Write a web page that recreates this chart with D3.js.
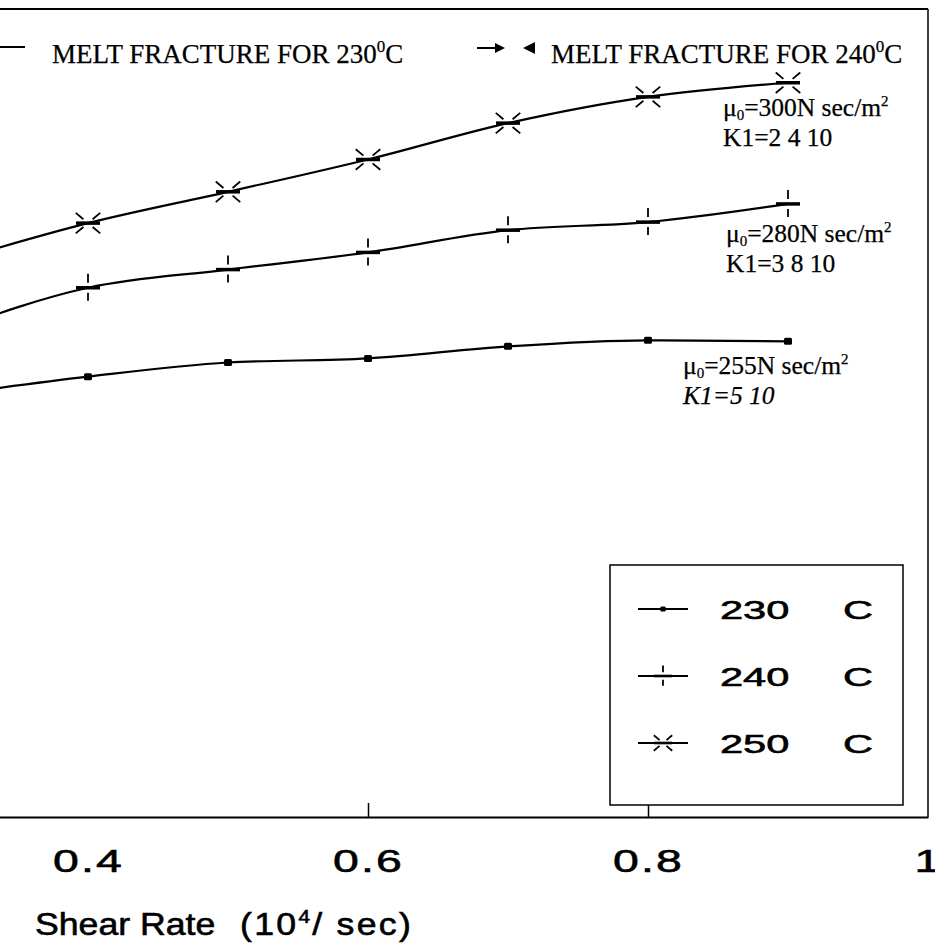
<html>
<head>
<script src="https://d3js.org/d3.v7.min.js"></script>
<style>
body { margin: 0; background: #fff; }
svg { display: block; }
.serif { font-family: 'Liberation Serif', 'Times New Roman', serif; font-size: 25.5px; fill: #000; stroke: #000; stroke-width: 0.25px; }
.sans { font-family: 'Liberation Sans', Arial, sans-serif; fill: #000; stroke: #000; stroke-width: 0.6px; }
</style>
</head>
<body>
<svg width="935" height="945"></svg>
<script>
// shear rate (10^4 / sec); the 0.3 point sits just off the left edge of the crop
var shearRate = [0.3, 0.4, 0.5, 0.6, 0.7, 0.8, 0.9];
var visc230 = [4.18, 4.36, 4.50, 4.54, 4.66, 4.72, 4.71];
var visc240 = [4.81, 5.24, 5.42, 5.59, 5.81, 5.89, 6.07];
var visc250 = [5.49, 5.88, 6.19, 6.51, 6.87, 7.13, 7.27];

var xTicks = [0.4, 0.6, 0.8, 1];
var xTickLabels = ["0.4", "0.6", "0.8", "1"];
var legendLabels = ["230", "240", "250"];
var muLabels = ["255N sec/m", "280N sec/m", "300N sec/m"];
var k1Labels = ["K1=5 10", "K1=3 8 10", "K1=2 4 10"];

var svg = d3.select("svg");

var x = d3.scaleLinear().domain([0.2, 1]).range([-192, 928]);
var y = d3.scaleLinear().domain([0, 8]).range([817, 9]);

// frame (top + right), bottom is the axis
svg.append("line").attr("x1", 0).attr("x2", x(1)).attr("y1", y(8)).attr("y2", y(8))
  .attr("stroke", "#000").attr("stroke-width", 1.8);
svg.append("line").attr("x1", x(1)).attr("x2", x(1)).attr("y1", y(8)).attr("y2", y(0))
  .attr("stroke", "#000").attr("stroke-width", 1.5);

var xAxis = d3.axisBottom(x)
  .tickValues(xTicks)
  .tickFormat(function(d, i) { return xTickLabels[i]; })
  .tickSizeInner(-14)
  .tickSizeOuter(0);

var gx = svg.append("g").attr("transform", "translate(0," + y(0) + ")").call(xAxis);
gx.attr("font-family", null).attr("font-size", null);
gx.select(".domain").attr("stroke-width", 2);
gx.selectAll(".tick line").attr("stroke-width", 1.5)
  .filter(function(d) { return d === 0.4 || d === 1; }).remove();
gx.selectAll(".tick text")
  .attr("class", "sans")
  .attr("y", 55).attr("dy", null)
  .style("font-size", "32px")
  .style("letter-spacing", "1.5px")
  .attr("transform", "scale(1.45,1)");

// axis title
svg.append("text").attr("class", "sans")
  .attr("transform", "translate(35,935) scale(1.15,1)")
  .style("font-size", "31px")
  .text("Shear Rate");
var t2 = svg.append("text").attr("class", "sans")
  .attr("transform", "translate(240,935) scale(1.15,1)")
  .style("font-size", "31px").style("letter-spacing", "2px");
t2.append("tspan").text("(10");
t2.append("tspan").attr("dy", -12).style("font-size", "18px").text("4");
t2.append("tspan").attr("dy", 12).text("/ sec)");

// markers
function marker(g, type, cx, cy, k) {
  if (type === 0) {
    g.append("rect").attr("x", cx - 4 * k).attr("y", cy - 3.5 * k)
      .attr("width", 8 * k).attr("height", 7 * k).attr("rx", 1.5).attr("fill", "#000");
    return;
  }
  g.append("line").attr("x1", cx - 12 * k).attr("x2", cx + 12 * k)
    .attr("y1", cy).attr("y2", cy).attr("stroke", "#000").attr("stroke-width", 3.5 * k);
  if (type === 1) {
    g.append("line").attr("x1", cx).attr("x2", cx).attr("y1", cy - 14 * k).attr("y2", cy - 5 * k)
      .attr("stroke", "#000").attr("stroke-width", 1.8);
    g.append("line").attr("x1", cx).attr("x2", cx).attr("y1", cy + 5 * k).attr("y2", cy + 13 * k)
      .attr("stroke", "#000").attr("stroke-width", 1.8);
  } else {
    [[-1, -1], [1, -1], [-1, 1], [1, 1]].forEach(function(s) {
      g.append("line")
        .attr("x1", cx + s[0] * 0.766 * 6 * k).attr("y1", cy + s[1] * 0.643 * 6 * k)
        .attr("x2", cx + s[0] * 0.766 * 16 * k).attr("y2", cy + s[1] * 0.643 * 16 * k)
        .attr("stroke", "#000").attr("stroke-width", 1.8);
    });
  }
}

var series = [visc230, visc240, visc250];
var line = d3.line()
  .x(function(d, i) { return x(shearRate[i]); })
  .y(function(d) { return y(d); })
  .curve(d3.curveMonotoneX);

var plot = svg.append("g");
series.forEach(function(vals, s) {
  plot.append("path").datum(vals)
    .attr("d", line)
    .attr("fill", "none").attr("stroke", "#000").attr("stroke-width", 2.2);
  vals.forEach(function(v, i) {
    marker(plot, s, x(shearRate[i]), y(v), 1);
  });
});

// parameter notes next to each curve end
var notePos = [[683, 374], [726, 242], [723, 116]];
series.forEach(function(vals, s) {
  var t = svg.append("text").attr("class", "serif")
    .attr("x", notePos[s][0]).attr("y", notePos[s][1]);
  t.append("tspan").text("\u03bc");
  t.append("tspan").attr("dy", 4).style("font-size", "15px").text("0");
  t.append("tspan").attr("dy", -4).text("=" + muLabels[s]);
  t.append("tspan").attr("dy", -10).style("font-size", "15px").text("2");
  svg.append("text").attr("class", "serif")
    .attr("x", notePos[s][0]).attr("y", notePos[s][1] + 30)
    .style("font-style", s === 0 ? "italic" : null)
    .text(k1Labels[s]);
});

// melt fracture notes
svg.append("line").attr("x1", 0).attr("x2", 25).attr("y1", 47).attr("y2", 47)
  .attr("stroke", "#000").attr("stroke-width", 2);
var m1 = svg.append("text").attr("class", "serif").attr("x", 52).attr("y", 63).style("font-size", "27px");
m1.append("tspan").text("MELT FRACTURE FOR 230");
m1.append("tspan").attr("dy", -11).style("font-size", "17px").text("0");
m1.append("tspan").attr("dy", 11).text("C");

svg.append("line").attr("x1", 477).attr("x2", 497).attr("y1", 48).attr("y2", 48)
  .attr("stroke", "#000").attr("stroke-width", 2);
svg.append("path").attr("d", "M495,43L505,48L495,53Z").attr("fill", "#000");
svg.append("path").attr("d", "M535,42L523,48L535,54Z").attr("fill", "#000");
var m2 = svg.append("text").attr("class", "serif").attr("x", 551).attr("y", 63).style("font-size", "27px");
m2.append("tspan").text("MELT FRACTURE FOR 240");
m2.append("tspan").attr("dy", -11).style("font-size", "17px").text("0");
m2.append("tspan").attr("dy", 11).text("C");

// legend
var lg = svg.append("g");
lg.append("rect").attr("x", 610).attr("y", 565).attr("width", 293).attr("height", 240)
  .attr("fill", "#fff").attr("stroke", "#000").attr("stroke-width", 1.5);
var rowY = [609, 676, 743];
legendLabels.forEach(function(lab, s) {
  lg.append("line").attr("x1", 638).attr("x2", 688).attr("y1", rowY[s]).attr("y2", rowY[s])
    .attr("stroke", "#000").attr("stroke-width", 2);
  marker(lg, s, 663, rowY[s], s === 0 ? 0.7 : 0.75);
  lg.append("text").attr("class", "sans")
    .attr("transform", "translate(720," + (rowY[s] + 10) + ") scale(1.6,1)")
    .style("font-size", "26px").text(lab);
  lg.append("text").attr("class", "sans")
    .attr("transform", "translate(843," + (rowY[s] + 10) + ") scale(1.6,1)")
    .style("font-size", "26px").text("C");
});
</script>
</body>
</html>
